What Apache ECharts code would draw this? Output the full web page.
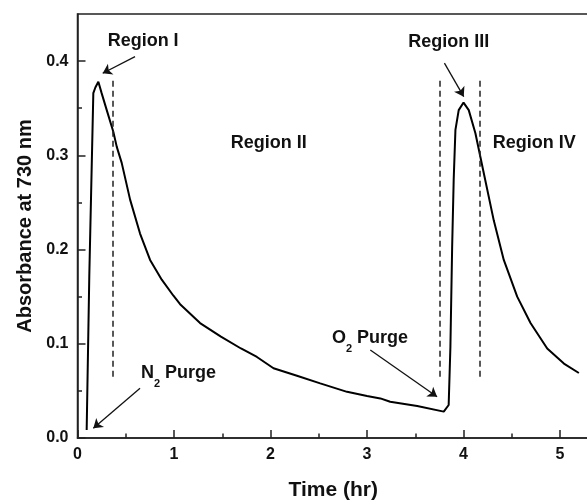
<!DOCTYPE html>
<html><head><meta charset="utf-8">
<script src="https://cdn.jsdelivr.net/npm/echarts@6/dist/echarts.min.js"></script>
<style>html,body{margin:0;padding:0;background:#fff}#c{width:587px;height:503px}</style>
</head><body><div id="c"></div>
<script>
// ---- data ----
const time = [0.095, 0.122, 0.164, 0.185, 0.216, 0.25, 0.303, 0.371, 0.407, 0.458, 0.545, 0.648, 0.752, 0.873, 0.994, 1.063, 1.27, 1.486, 1.694, 1.859, 2.031, 2.274, 2.515, 2.793, 3.0, 3.138, 3.24, 3.52, 3.795, 3.846, 3.864, 3.882, 3.898, 3.916, 3.95, 4.0, 4.054, 4.123, 4.21, 4.313, 4.417, 4.556, 4.694, 4.867, 5.04, 5.195];
const absorbance = [0.0085, 0.171, 0.366, 0.372, 0.378, 0.366, 0.348, 0.325, 0.309, 0.292, 0.253, 0.217, 0.189, 0.168, 0.151, 0.142, 0.122, 0.1075, 0.095, 0.086, 0.074, 0.066, 0.058, 0.049, 0.0446, 0.042, 0.0385, 0.034, 0.028, 0.035, 0.097, 0.203, 0.274, 0.327, 0.348, 0.356, 0.348, 0.3235, 0.281, 0.231, 0.189, 0.150, 0.122, 0.095, 0.079, 0.069];
const xTicks = [0, 1, 2, 3, 4, 5];
const xMinorTicks = [0.5, 1.5, 2.5, 3.5, 4.5];
const yTicks = [0, 0.1, 0.2, 0.3, 0.4];
const yMinorTicks = [0.05, 0.15, 0.25, 0.35];
const dashX = [0.365, 3.753, 4.168];
const dashYTop = [0.382, 0.38, 0.38];
const dashYBottom = [0.065, 0.065, 0.065];
const arrowStart = [[0.596, 0.4048], [3.802, 0.3978], [0.648, 0.0528], [3.034, 0.0934]];
const arrowEnd = [[0.261, 0.3871], [4.002, 0.3623], [0.164, 0.0103], [3.726, 0.0438]];
const regionTexts = ['Region I', 'Region II', 'Region III', 'Region IV'];
const regionPos = [[0.68, 0.4209], [1.981, 0.313], [3.846, 0.4199], [4.733, 0.3128]];
const purgeGas = ['N', 'O'];
const purgePos = [[1.046, 0.0687], [3.031, 0.1058]];

const FONT = '"Liberation Sans", Arial, Helvetica, sans-serif';
const INK = '#111';
const AX = '#222';

const chart = echarts.init(document.getElementById('c'), null, {renderer: 'canvas'});

function xAxisBase(extra) {
  return Object.assign({
    type: 'value', min: 0, max: 5.3, position: 'bottom', gridIndex: 0,
    splitLine: {show: false}
  }, extra);
}
function yAxisBase(extra) {
  return Object.assign({
    type: 'value', min: 0, max: 0.45, position: 'left', gridIndex: 0,
    splitLine: {show: false}
  }, extra);
}

const option = {
  animation: false,
  backgroundColor: '#fff',
  grid: {left: 77.5, right: -2, top: 14, bottom: 65, show: true, borderColor: AX, borderWidth: 1.5,
         containLabel: false, outerBoundsMode: 'none'},
  xAxis: [
    xAxisBase({
      axisLine: {show: true, lineStyle: {color: AX, width: 1.5}},
      axisTick: {show: true, inside: true, length: 8, customValues: xTicks, lineStyle: {color: AX, width: 1.5}},
      axisLabel: {customValues: xTicks, margin: 9, fontSize: 16, fontWeight: 'bold', color: INK, fontFamily: FONT},
      name: 'Time (hr)', nameLocation: 'middle', nameGap: 42,
      nameTextStyle: {fontSize: 21, fontWeight: 'bold', color: INK, fontFamily: FONT}
    }),
    xAxisBase({
      axisLine: {show: false},
      axisTick: {show: true, inside: true, length: 4.5, customValues: xMinorTicks, lineStyle: {color: AX, width: 1.5}},
      axisLabel: {show: false}
    })
  ],
  yAxis: [
    yAxisBase({
      axisLine: {show: true, lineStyle: {color: AX, width: 1.5}},
      axisTick: {show: true, inside: true, length: 8, customValues: yTicks, lineStyle: {color: AX, width: 1.5}},
      axisLabel: {customValues: yTicks, margin: 9, fontSize: 16, fontWeight: 'bold', color: INK, fontFamily: FONT,
                  formatter: v => v.toFixed(1)},
      name: 'Absorbance at 730 nm', nameLocation: 'middle', nameGap: 42, nameRotate: 90,
      nameTextStyle: {fontSize: 20, fontWeight: 'bold', color: INK, fontFamily: FONT}
    }),
    yAxisBase({
      axisLine: {show: false},
      axisTick: {show: true, inside: true, length: 4.5, customValues: yMinorTicks, lineStyle: {color: AX, width: 1.5}},
      axisLabel: {show: false}
    })
  ],
  series: [
    {
      type: 'line', xAxisIndex: 0, yAxisIndex: 0,
      data: time.map((t, i) => [t, absorbance[i]]),
      symbol: 'none', smooth: false,
      lineStyle: {color: '#000', width: 2},
      markLine: {
        silent: true, symbol: ['none', 'none'], label: {show: false},
        lineStyle: {color: '#222', width: 1.5, type: [6, 4]},
        data: dashX.map((x, i) => [{coord: [x, dashYBottom[i]]}, {coord: [x, dashYTop[i]]}])
      }
    },
    {
      type: 'line', xAxisIndex: 0, yAxisIndex: 0, data: [], symbol: 'none',
      markLine: {
        silent: true, symbol: ['none', 'arrow'], symbolSize: 9, label: {show: false},
        lineStyle: {color: '#111', width: 1.3, type: 'solid'},
        data: arrowStart.map((s, i) => [{coord: s}, {coord: arrowEnd[i]}])
      }
    }
  ]
};
chart.setOption(option);

const graphics = [];
regionTexts.forEach((t, i) => {
  const p = chart.convertToPixel({gridIndex: 0}, regionPos[i]);
  graphics.push({
    type: 'text', x: p[0], y: p[1], silent: true,
    style: {text: t, fill: INK, font: 'bold 18px ' + FONT, align: 'center', verticalAlign: 'middle'}
  });
});
purgeGas.forEach((g, i) => {
  const p = chart.convertToPixel({gridIndex: 0}, purgePos[i]);
  graphics.push({
    type: 'text', x: p[0], y: p[1], silent: true,
    style: {
      text: '{m|' + g + '}{s|2}{m| Purge}',
      align: 'center', verticalAlign: 'middle',
      rich: {
        m: {fill: INK, fontSize: 18, fontWeight: 'bold', fontFamily: FONT, lineHeight: 18, verticalAlign: 'top'},
        s: {fill: INK, fontSize: 11, fontWeight: 'bold', fontFamily: FONT, lineHeight: 11, padding: [14, 0, 0, 0], verticalAlign: 'top'}
      }
    }
  });
});
chart.setOption({graphic: graphics});
</script>
</body></html>
